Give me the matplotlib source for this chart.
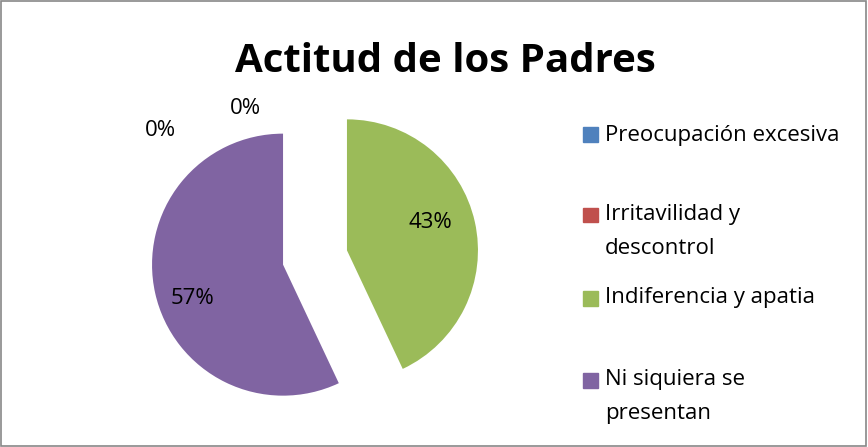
import matplotlib.pyplot as plt
from matplotlib.patches import Rectangle

categories = ['Preocupación excesiva', 'Irritavilidad y\ndescontrol',
              'Indiferencia y apatia', 'Ni siquiera se\npresentan']
values = [0, 0, 43, 57]
colors = ['#4F81BD', '#C0504D', '#9BBB59', '#8064A2']

plt.rcParams['font.family'] = ['Open Sans', 'DejaVu Sans']

W, H = 868, 447
fig = plt.figure(figsize=(W / 100, H / 100), dpi=100)
ax = fig.add_axes([0, 0, 1, 1])

# pie centre and radius in pixels
cx, cy, r = 315, H - 257.5, 131

def to_data(x, y):
    return (x - cx) / r, (H - y - cy) / r

wedges, texts, autotexts = ax.pie(
    values, colors=colors, startangle=90, counterclock=False,
    explode=[0, 0, 0.25, 0.25],
    autopct=lambda p: f'{p:.0f}%' if p > 0 else '',
    pctdistance=0.7, textprops={'fontsize': 16})

ax.set_xlim(-cx / r, (W - cx) / r)
ax.set_ylim(-cy / r, (H - cy) / r)
ax.set_aspect('equal')
ax.axis('off')

# label positions as Excel places them
label_pos = [(160, 130), (245, 108), (430, 222), (192, 298)]
for t, v, (x, y) in zip(autotexts, values, label_pos):
    t.set_text(f'{v}%')
    t.set_position(to_data(x, y))

fig.text(445 / W, 1 - 72 / H, 'Actitud de los Padres', fontsize=29,
         fontweight='bold', ha='center', va='baseline')

# legend (square lines up with the first text line)
legend_y = [135, 215, 298, 380]
for cat, col, y in zip(categories, colors, legend_y):
    fig.patches.append(Rectangle((583 / W, 1 - (y + 7.5) / H), 15 / W, 15 / H,
                                 color=col, transform=fig.transFigure))
    for i, line in enumerate(cat.split('\n')):
        fig.text(605 / W, 1 - (y + 33 * i) / H, line, fontsize=16,
                 ha='left', va='center')

# outer border
fig.patches.append(Rectangle((0.001, 0.002), 0.997, 0.995, fill=False,
                             edgecolor='#888888', lw=1.2,
                             transform=fig.transFigure))

fig.savefig('out.png', dpi=100)
